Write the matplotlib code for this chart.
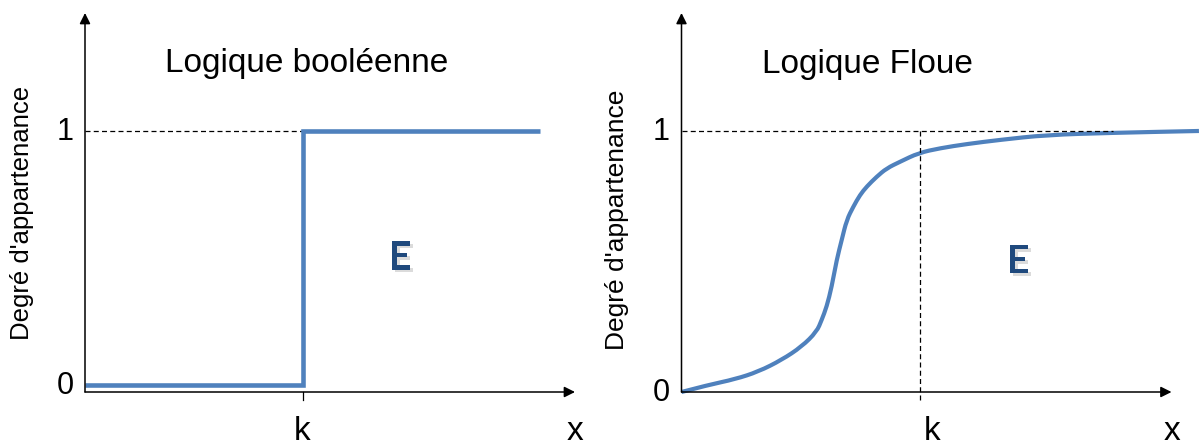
import matplotlib
matplotlib.use("Agg")
import matplotlib.pyplot as plt
import matplotlib.patheffects as pe
from matplotlib.path import Path
from matplotlib.patches import PathPatch

plt.rcParams['font.family'] = ['Liberation Sans', 'DejaVu Sans']

# left panel: crisp (boolean) membership
k_bool = 4.44
bool_x = [0, k_bool, k_bool, 9.29]
bool_y = [0, 0, 1, 1]

# right panel: fuzzy membership
k_fuzzy = 4.87
fuzzy_x = [0, 0.547, 1.092, 1.567, 2.045, 2.453, 2.759, 2.861, 2.963, 3.065,
           3.167, 3.269, 3.371, 3.506, 3.643, 3.780, 3.984, 4.188, 4.459,
           4.841, 5.276, 5.820, 6.500, 7.453, 8.806, 10.56]
fuzzy_y = [0, 0.027, 0.049, 0.078, 0.123, 0.174, 0.231, 0.276, 0.327, 0.403,
           0.506, 0.582, 0.659, 0.710, 0.755, 0.787, 0.825, 0.857, 0.882,
           0.916, 0.934, 0.950, 0.966, 0.985, 0.993, 1.0]
dash_end_fuzzy = 8.81

titles = ["Logique booléenne", "Logique Floue"]
ylabel = "Degré d'appartenance"
blue = "#4F81BD"
dark_blue = "#1F497D"


def smooth_path(xs, ys):
    # quadratic bezier through midpoints, the read points act as controls
    pts = list(zip(xs, ys))
    verts = [pts[0]]
    codes = [Path.MOVETO]
    for i in range(1, len(pts) - 1):
        mid = ((pts[i][0] + pts[i + 1][0]) / 2, (pts[i][1] + pts[i + 1][1]) / 2)
        verts += [pts[i], mid]
        codes += [Path.CURVE3, Path.CURVE3]
    verts.append(pts[-1])
    codes.append(Path.LINETO)
    return Path(verts, codes)


W, H = 1199, 445
fig = plt.figure(figsize=(W / 100, H / 100), dpi=100)

ax1 = fig.add_axes([85 / W, 53 / H, 490 / W, 379 / H])
ax2 = fig.add_axes([681.5 / W, 53 / H, 490 / W, 379 / H])

ax1.set_xlim(0, 10)
ax1.set_ylim(-0.0276, 1.465)
ax2.set_xlim(0, 10)
ax2.set_ylim(0, 1.452)

shadow = [pe.withSimplePatchShadow(offset=(2, -2), shadow_rgbFace='#888888',
                                   alpha=0.3)]
dash = (0, (4, 2.6))
lab_y = -0.127

for ax in (ax1, ax2):
    for s in ax.spines.values():
        s.set_visible(False)
    ax.set_xticks([])
    ax.set_yticks([])
    ax.patch.set_alpha(0)
    arrow = dict(arrowstyle='-|>', lw=1.1, color='black', mutation_scale=16,
                 shrinkA=0, shrinkB=0)
    ax.annotate('', xy=(1, 0), xytext=(0, 0), xycoords='axes fraction',
                arrowprops=arrow)
    ax.annotate('', xy=(0, 1), xytext=(0, 0), xycoords='axes fraction',
                arrowprops=arrow)
    for lvl in (0, 1):
        ax.annotate(str(lvl), xy=(0, lvl), xycoords=ax.get_yaxis_transform(),
                    xytext=(-20, -9), textcoords='offset pixels',
                    ha='center', va='baseline', fontsize=22)
    ax.text(1.0, lab_y, "x", transform=ax.transAxes, ha='center',
            va='baseline', fontsize=24)

# left
ax1.plot([0, k_bool], [1, 1], color='black', lw=0.9, ls=dash)
ax1.plot(bool_x, bool_y, color=blue, lw=3.3, solid_joinstyle='miter',
         solid_capstyle='butt')
y0 = ax1.get_ylim()[0]
ax1.plot([k_bool, k_bool], [y0, y0 - 0.031], color='black', lw=0.9,
         clip_on=False)
ax1.text(k_bool, lab_y, "k", transform=ax1.get_xaxis_transform(),
         ha='center', va='baseline', fontsize=24)
ax1.text(0.163, 0.844, titles[0], transform=ax1.transAxes, ha='left',
         va='baseline', fontsize=24)
ax1.text(6.43, 0.5, "E", ha='center', va='center', fontsize=28,
         fontweight='bold', family='Lato', color=dark_blue,
         path_effects=shadow)
fig.text(22 / W, 1 - 213 / H, ylabel, rotation=90, ha='center', va='center',
         fontsize=18.5)

# right
ax2.plot([0, dash_end_fuzzy], [1, 1], color='black', lw=0.9, ls=dash)
ax2.plot([k_fuzzy, k_fuzzy], [1, -0.031], color='black', lw=0.9, ls=dash,
         clip_on=False)
curve = PathPatch(smooth_path(fuzzy_x, fuzzy_y), fill=False, edgecolor=blue,
                  lw=3, capstyle='butt', joinstyle='round', clip_on=False)
ax2.add_patch(curve)
ax2.annotate("k", xy=(k_fuzzy, lab_y), xycoords=ax2.get_xaxis_transform(),
             xytext=(12, 0), textcoords='offset pixels', ha='center',
             va='baseline', fontsize=24)
ax2.text(0.164, 0.842, titles[1], transform=ax2.transAxes, ha='left',
         va='baseline', fontsize=24)
ax2.text(6.87, 0.5, "E", ha='center', va='center', fontsize=28,
         fontweight='bold', family='Lato', color=dark_blue,
         path_effects=shadow)
fig.text(617 / W, 1 - 220 / H, ylabel, rotation=90, ha='center', va='center',
         fontsize=19)

fig.savefig("out.png", dpi=100)
plt.close(fig)
